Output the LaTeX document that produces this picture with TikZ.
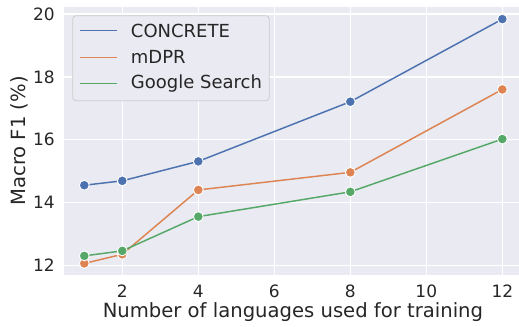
\documentclass[tikz,border=0pt]{standalone}
\usepackage{fontspec}
\setmainfont{DejaVu Sans}
\definecolor{plotbg}{HTML}{EAEAF2}
\definecolor{txt}{HTML}{262626}
\definecolor{cblue}{HTML}{4C72B0}
\definecolor{corange}{HTML}{DD8452}
\definecolor{cgreen}{HTML}{55A868}
\tikzset{
  series/.style={line width=1.1pt},
  dot/.style={circle,inner sep=0pt,minimum size=7.4pt,draw=white,line width=0.7pt,fill=#1},
  ticklabel/.style={text=txt,font=\fontsize{12.75}{15}\selectfont,inner sep=0pt},
  legendtext/.style={text=txt,font=\fontsize{13.5}{16}\selectfont,anchor=west,inner sep=0pt},
  axislabel/.style={text=txt,font=\fontsize{14.7}{17}\selectfont,inner sep=0pt}
}
\begin{document}
\begin{tikzpicture}[x=28.5pt,y=23.55pt]
      \useasboundingbox (-1.218,10.067) rectangle (12.439,20.449);
      \fill[plotbg] (0.466,11.69) rectangle (12.439,20.22);
      \begin{scope}[white,line width=1pt]
        \foreach \xv in {2,4,6,8,10,12}
          \draw (\xv,11.69) -- (\xv,20.22);
        \foreach \yv in {12,14,16,18,20}
          \draw (0.466,\yv) -- (12.439,\yv);
      \end{scope}
      \foreach \xv in {2,4,6,8,10,12}
        \node[ticklabel] (x\xv) at (\xv,11.18) {\xv};
      \foreach \yv in {12,14,16,18,20}
        \node[ticklabel,anchor=east] (y\yv) at (0.229,\yv) {\yv};
      \node[axislabel,anchor=base] (xlabel) at (6.49,10.33) {Number of languages used for training};
      \node[axislabel,rotate=90] (ylabel) at (-0.705,15.96) {Macro F1 (\%)};
      \coordinate (c1) at (1,14.55);
      \coordinate (c2) at (2,14.69);
      \coordinate (c4) at (4,15.31);
      \coordinate (c8) at (8,17.21);
      \coordinate (c12) at (12,19.84);
      \coordinate (m1) at (1,12.06);
      \coordinate (m2) at (2,12.35);
      \coordinate (m4) at (4,14.40);
      \coordinate (m8) at (8,14.96);
      \coordinate (m12) at (12,17.60);
      \coordinate (g1) at (1,12.30);
      \coordinate (g2) at (2,12.46);
      \coordinate (g4) at (4,13.55);
      \coordinate (g8) at (8,14.34);
      \coordinate (g12) at (12,16.02);
      \draw[series,cblue] (c1) -- (c2) -- (c4) -- (c8) -- (c12);
      \draw[series,corange] (m1) -- (m2) -- (m4) -- (m8) -- (m12);
      \draw[series,cgreen] (g1) -- (g2) -- (g4) -- (g8) -- (g12);
      \foreach \p in {c1,c2,c4,c8,c12}
        \node[dot=cblue] at (\p) {};
      \foreach \p in {m1,m2,m4,m8,m12}
        \node[dot=corange] at (\p) {};
      \foreach \p in {g1,g2,g4,g8,g12}
        \node[dot=cgreen] at (\p) {};
      \draw[draw=black!20,fill=plotbg,rounded corners=2.5pt,line width=0.6pt]
        (0.695,17.242) rectangle (5.868,19.949);
      \coordinate (la) at (0.887,19.471);
      \coordinate (lb) at (1.853,19.471);
      \coordinate (lc) at (0.887,18.624);
      \coordinate (ld) at (1.853,18.624);
      \coordinate (le) at (0.887,17.796);
      \coordinate (lf) at (1.853,17.796);
      \draw[series,cblue] (la) -- (lb);
      \draw[series,corange] (lc) -- (ld);
      \draw[series,cgreen] (le) -- (lf);
      \node[legendtext] (lconcrete) at (2.221,19.471) {CONCRETE};
      \node[legendtext] (lmdpr) at (2.221,18.624) {mDPR};
      \node[legendtext] (lgoogle) at (2.221,17.796) {Google Search};
    \end{tikzpicture}
\end{document}
